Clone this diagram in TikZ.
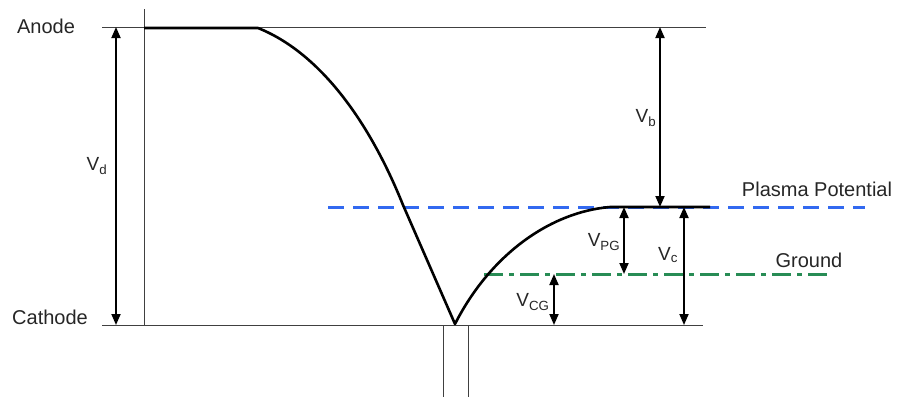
\documentclass[tikz,border=0pt]{standalone}
\usepackage{fontspec}
\setmainfont{Liberation Sans}
\usetikzlibrary{arrows.meta}
\definecolor{plasmablue}{RGB}{50,105,240}
\definecolor{groundgreen}{RGB}{40,140,85}
\begin{document}
\begin{tikzpicture}[x=1pt,y=-1pt,
  thinline/.style={draw=black!75,line width=0.9pt},
  curveline/.style={draw=black,line width=2.6pt,line join=round},
  dimarrow/.style={draw=black,line width=1.8pt,{Triangle[length=11pt,width=9pt]}-{Triangle[length=11pt,width=9pt]}},
  lbl/.style={font=\fontsize{20}{24}\selectfont,inner sep=0pt,text=black!85},
  vlbl/.style={font=\fontsize{19}{22}\selectfont,inner sep=0pt,text=black!85}]
\useasboundingbox (0,0) rectangle (902,397);
% reference lines
\coordinate (anL) at (102,27); \coordinate (anR) at (706,27);
\coordinate (caL) at (102,325); \coordinate (caR) at (703,325);
\draw[thinline] (anL) -- (anR);
\draw[thinline] (caL) -- (caR);
\coordinate (vt) at (144,9); \coordinate (vb) at (144,325);
\draw[thinline] (vt) -- (vb);
\coordinate (p1t) at (443,325); \coordinate (p1b) at (443,397);
\coordinate (p2t) at (468,325); \coordinate (p2b) at (468,397);
\draw[thinline] (p1t) -- (p1b);
\draw[thinline] (p2t) -- (p2b);
% plasma potential and ground
\coordinate (plL) at (328,207); \coordinate (plR) at (865,207);
\draw[plasmablue,line width=3pt,dash pattern=on 16pt off 9pt] (plL) -- (plR);
\coordinate (grL) at (484,274); \coordinate (grR) at (832,274);
\draw[groundgreen,line width=3pt,dash pattern=on 19pt off 6pt on 5pt off 6pt] (grL) -- (grR);
% potential curve
\coordinate (cStart) at (144,28); \coordinate (cBend) at (258,28);
\coordinate (cMid) at (403,205); \coordinate (cMin) at (455,324);
\coordinate (cKnee) at (610,207); \coordinate (cEnd) at (710,207);
\draw[curveline] (cStart) -- (cBend)
  .. controls (318,52) and (368,118) .. (cMid) -- (cMin)
  .. controls (490,255) and (550,212) .. (cKnee) -- (cEnd);
% dimension arrows
\coordinate (vdT) at (116,27); \coordinate (vdB) at (116,325);
\draw[dimarrow] (vdT) -- (vdB);
\coordinate (vbT) at (660,27); \coordinate (vbB) at (660,207);
\draw[dimarrow] (vbT) -- (vbB);
\coordinate (vpgT) at (624,207); \coordinate (vpgB) at (624,274);
\draw[dimarrow] (vpgT) -- (vpgB);
\coordinate (vcT) at (684,207); \coordinate (vcB) at (684,325);
\draw[dimarrow] (vcT) -- (vcB);
\coordinate (vcgT) at (554,274); \coordinate (vcgB) at (554,325);
\draw[dimarrow] (vcgT) -- (vcgB);
% labels
\node[lbl] (anode) at (46,26) {Anode};
\node[lbl] (cathode) at (50,317) {Cathode};
\node[lbl] (plasma) at (817,189) {Plasma Potential};
\node[lbl] (ground) at (809,260) {Ground};
\node[vlbl] (Vd) at (97,166) {V\textsubscript{d}};
\node[vlbl] (Vb) at (646,118) {V\textsubscript{b}};
\node[vlbl] (Vpg) at (604,242) {V\textsubscript{PG}};
\node[vlbl] (Vc) at (668,255) {V\textsubscript{c}};
\node[vlbl] (Vcg) at (533,302) {V\textsubscript{CG}};
\end{tikzpicture}
\end{document}
